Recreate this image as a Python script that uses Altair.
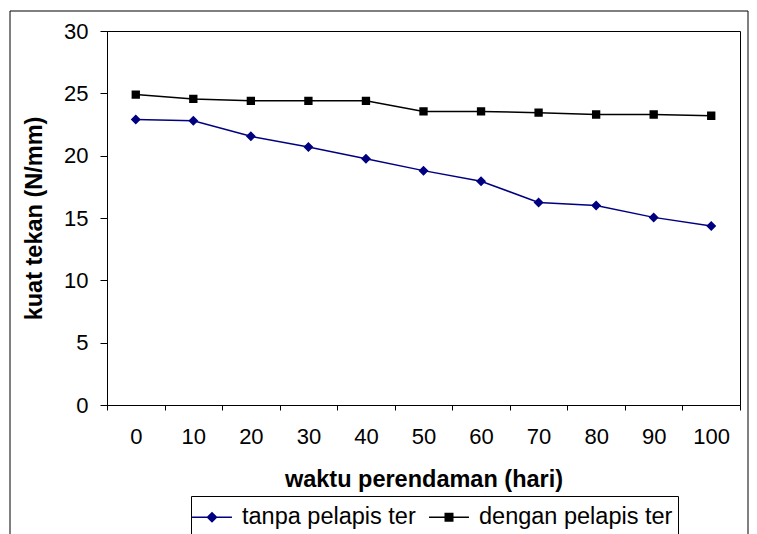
import altair as alt
import pandas as pd

days = [0, 10, 20, 30, 40, 50, 60, 70, 80, 90, 100]
tanpa = [22.9, 22.8, 21.55, 20.7, 19.75, 18.8, 17.95, 16.25, 16.0, 15.05, 14.35]
dengan = [24.9, 24.55, 24.4, 24.4, 24.4, 23.55, 23.55, 23.45, 23.3, 23.3, 23.2]
series = ["tanpa pelapis ter", "dengan pelapis ter"]
colors = ["#000080", "#000000"]
shapes = [
    "M-1.33,0H1.33M0,-0.3L0.3,0L0,0.3L-0.3,0Z",
    "M-1.33,0H1.33M-0.25,-0.25H0.25V0.25H-0.25Z",
]
y_ticks = [0, 5, 10, 15, 20, 25, 30]

rows = []
for d, a, b in zip(days, tanpa, dengan):
    rows.append({"hari": d, "kuat": a, "seri": series[0]})
    rows.append({"hari": d, "kuat": b, "seri": series[1]})
df = pd.DataFrame(rows)

FONT = "Liberation Sans"

x_enc = alt.X(
    "hari:O",
    title="waktu perendaman (hari)",
    scale=alt.Scale(type="band", paddingInner=0, paddingOuter=0),
    axis=alt.Axis(
        labelAngle=0, tickBand="extent", tickSize=5, labelPadding=16,
        labelFont=FONT, labelFontSize=22, titleFont=FONT, titleFontSize=23.5,
        titleFontWeight="bold", titlePadding=20, domainColor="black",
        tickColor="black", labelColor="black", titleColor="black", grid=False,
    ),
)
y_enc = alt.Y(
    "kuat:Q",
    title="kuat tekan (N/mm)",
    scale=alt.Scale(domain=[0, 30], nice=False),
    axis=alt.Axis(
        values=y_ticks, tickSize=7, labelPadding=12, labelFont=FONT,
        labelFontSize=22, titleFont=FONT, titleFontSize=23.5,
        titleFontWeight="bold", titlePadding=17, domainColor="black",
        tickColor="black", labelColor="black", titleColor="black", grid=False,
    ),
)
color_scale = alt.Scale(domain=series, range=colors)
shape_scale = alt.Scale(domain=series, range=shapes)

legend = alt.Legend(
    title=None, orient="none", legendX=84, legendY=465, direction="horizontal",
    columns=2, strokeColor="black", padding=5, labelFont=FONT, labelFontSize=23.5,
    labelColor="black", labelOffset=14, columnPadding=10, symbolSize=900,
    symbolStrokeWidth=1.5, labelLimit=300,
)

lines = alt.Chart(df).mark_line(strokeWidth=1.5).encode(
    x=x_enc, y=y_enc,
    color=alt.Color("seri:N", scale=color_scale, legend=None),
    detail="seri:N",
)
points = alt.Chart(df).mark_point(filled=True, size=1111, strokeWidth=0, opacity=1).encode(
    x=x_enc, y=y_enc,
    color=alt.Color("seri:N", scale=color_scale, legend=None),
    shape=alt.Shape("seri:N", scale=shape_scale, legend=None),
)
# legend-only layer: its marks are moved below the clipped view
legend_layer = alt.Chart(df).transform_calculate(kuat="-100").mark_point(
    filled=True, size=900, strokeWidth=1.5, opacity=1, clip=True
).encode(
    x=x_enc, y=y_enc,
    color=alt.Color("seri:N", scale=color_scale, legend=legend),
    stroke=alt.Stroke("seri:N", scale=color_scale, legend=legend),
    shape=alt.Shape("seri:N", scale=shape_scale, legend=legend),
)

frame = alt.Chart(pd.DataFrame({"k": [0]})).mark_rect(
    fill=None, stroke="black", strokeWidth=1, clip=False
).encode(
    x=alt.value(-97), x2=alt.value(641), y=alt.value(-20), y2=alt.value(540)
)

chart = alt.layer(frame, lines, points, legend_layer).resolve_legend(
    color="independent", shape="independent", stroke="independent"
).properties(
    width=633, height=374,
    autosize=alt.AutoSizeParams(type="none"),
    padding={"left": 99, "top": 23, "right": 9, "bottom": 129},
).configure(
    font=FONT,
).configure_view(
    stroke="black", strokeWidth=1,
)

chart.save("out.html", embed_options={"renderer": "svg", "actions": False})
